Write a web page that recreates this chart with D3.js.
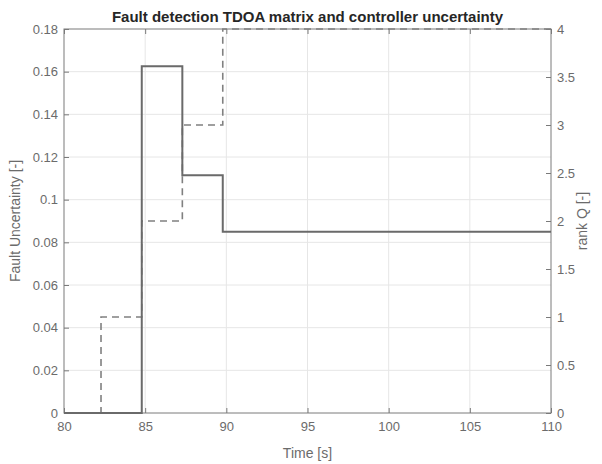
<!DOCTYPE html>
<html>
<head>
<meta charset="utf-8">
<script src="https://cdn.jsdelivr.net/npm/d3@7"></script>
<style>
  body { margin: 0; background: #fff; }
  svg { font-family: "Liberation Sans", Arial, sans-serif; }
</style>
</head>
<body>
<div id="chart"></div>
<script>
/* data
------------------------------------------------------ */
const uncTime = [80, 84.79, 87.29, 89.78, 110];
const uncValue = [0, 0.1625, 0.1114, 0.085, 0.085];

const rankTime = [80, 82.28, 84.79, 87.29, 89.78, 110];
const rankValue = [0, 1, 2, 3, 4, 4];

const xTicks = [80, 85, 90, 95, 100, 105, 110];
const yLeftTicks = [0, 0.02, 0.04, 0.06, 0.08, 0.1, 0.12, 0.14, 0.16, 0.18];
const yRightTicks = [0, 0.5, 1, 1.5, 2, 2.5, 3, 3.5, 4];

/* svg
------------------------------------------------------ */
const width = 602, height = 464;
const margin = {top: 29, right: 51, bottom: 51, left: 64};
const w = width - margin.left - margin.right;
const h = height - margin.top - margin.bottom;

const axisCol = "#7a7a7a";
const textCol = "#6b6b6b";

const svg = d3.select("#chart").append("svg")
  .attr("width", width)
  .attr("height", height);

const g = svg.append("g")
  .attr("transform", `translate(${margin.left},${margin.top})`);

const x = d3.scaleLinear().domain([80, 110]).range([0, w]);
const yL = d3.scaleLinear().domain([0, 0.18]).range([h, 0]);
const yR = d3.scaleLinear().domain([0, 4]).range([h, 0]);

/* grid */
g.append("g").selectAll("line")
  .data(xTicks.slice(1, -1))
  .join("line")
  .attr("x1", d => x(d)).attr("x2", d => x(d))
  .attr("y1", 0).attr("y2", h)
  .attr("stroke", "#e6e6e6");

g.append("g").selectAll("line")
  .data(yLeftTicks.slice(1, -1))
  .join("line")
  .attr("x1", 0).attr("x2", w)
  .attr("y1", d => yL(d)).attr("y2", d => yL(d))
  .attr("stroke", "#e6e6e6");

/* axes */
function styleAxis(sel) {
  sel.select(".domain").remove();
  sel.selectAll(".tick line").attr("stroke", axisCol);
  sel.selectAll(".tick text")
    .attr("fill", textCol)
    .attr("font-size", 13)
    .attr("font-family", "Liberation Sans, Arial, sans-serif");
}

const fmt = d => String(+d.toFixed(4));

g.append("g")
  .attr("transform", `translate(0,${h})`)
  .call(d3.axisBottom(x).tickValues(xTicks).tickSize(-5).tickPadding(9).tickFormat(fmt))
  .call(styleAxis);

g.append("g")
  .call(d3.axisTop(x).tickValues(xTicks).tickSize(-5).tickFormat(""))
  .call(styleAxis);

g.append("g")
  .call(d3.axisLeft(yL).tickValues(yLeftTicks).tickSize(-5).tickPadding(6).tickFormat(fmt))
  .call(styleAxis);

g.append("g")
  .attr("transform", `translate(${w},0)`)
  .call(d3.axisRight(yR).tickValues(yRightTicks).tickSize(-5).tickPadding(6).tickFormat(fmt))
  .call(styleAxis);

/* box */
g.append("rect")
  .attr("width", w).attr("height", h)
  .attr("fill", "none")
  .attr("stroke", axisCol)
  .attr("stroke-width", 1);

/* lines */
const lineL = d3.line().curve(d3.curveStepAfter)
  .x(d => x(d[0])).y(d => yL(d[1]));
const lineR = d3.line().curve(d3.curveStepAfter)
  .x(d => x(d[0])).y(d => yR(d[1]));

g.append("path")
  .datum(rankTime.map((t, i) => [t, rankValue[i]]))
  .attr("d", lineR)
  .attr("fill", "none")
  .attr("stroke", "#808080")
  .attr("stroke-width", 1.6)
  .attr("stroke-dasharray", "7,5");

g.append("path")
  .datum(uncTime.map((t, i) => [t, uncValue[i]]))
  .attr("d", lineL)
  .attr("fill", "none")
  .attr("stroke", "#6a6a6a")
  .attr("stroke-width", 2);

/* labels */
svg.append("text")
  .attr("x", margin.left + w / 2).attr("y", 22)
  .attr("text-anchor", "middle")
  .attr("font-size", 15).attr("font-weight", "bold")
  .attr("fill", "#262626")
  .text("Fault detection TDOA matrix and controller uncertainty");

svg.append("text")
  .attr("x", margin.left + w / 2).attr("y", 458)
  .attr("text-anchor", "middle")
  .attr("font-size", 14)
  .attr("fill", textCol)
  .text("Time [s]");

svg.append("text")
  .attr("transform", `translate(20,${margin.top + h / 2}) rotate(-90)`)
  .attr("text-anchor", "middle")
  .attr("font-size", 14)
  .attr("fill", textCol)
  .text("Fault Uncertainty [-]");

svg.append("text")
  .attr("transform", `translate(587,${margin.top + h / 2}) rotate(-90)`)
  .attr("text-anchor", "middle")
  .attr("font-size", 14)
  .attr("fill", textCol)
  .text("rank Q [-]");
</script>
</body>
</html>
